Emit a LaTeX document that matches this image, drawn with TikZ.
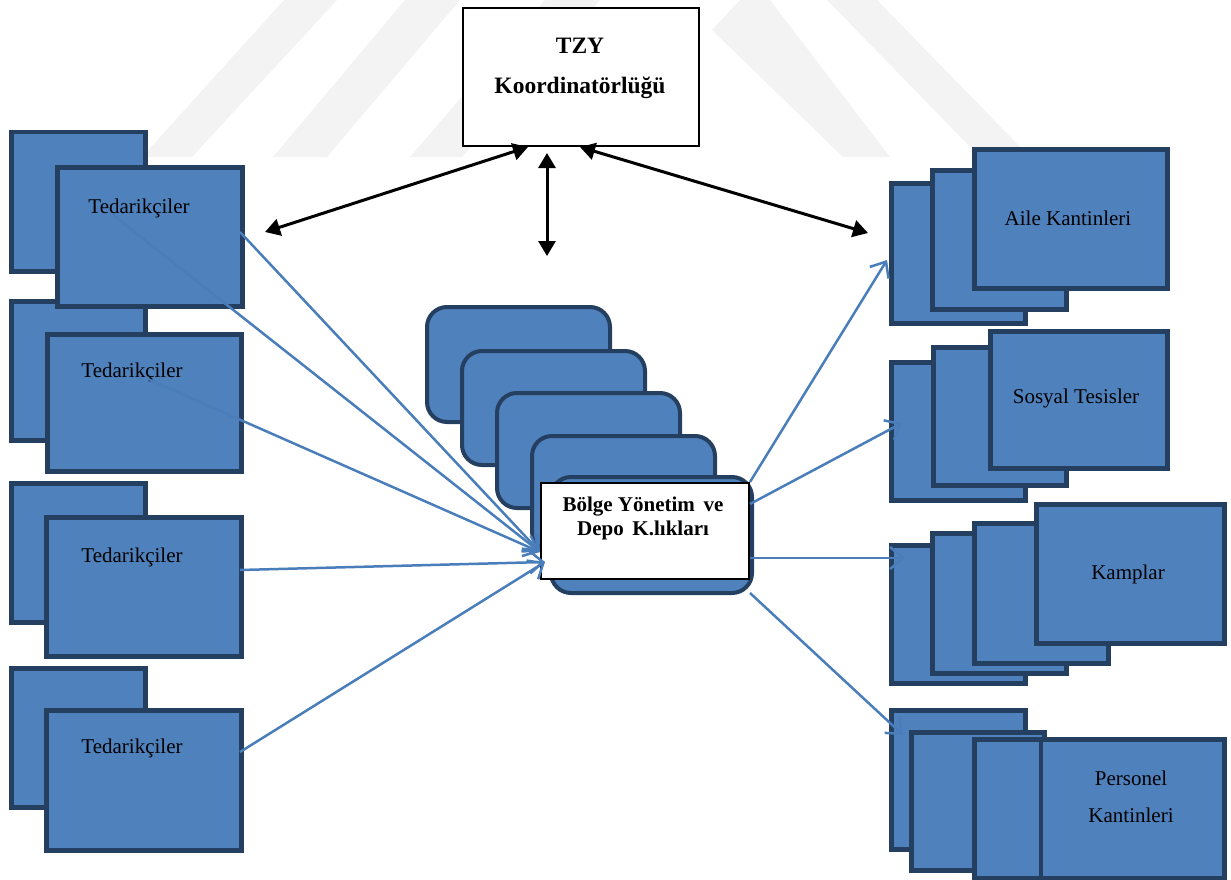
\documentclass[tikz,border=0pt]{standalone}
\usepackage{fontspec}
\setmainfont{Liberation Serif}
\usetikzlibrary{arrows.meta}
\definecolor{boxfill}{HTML}{4F81BD}
\definecolor{boxline}{HTML}{243F60}
\definecolor{conn}{HTML}{4A7EBB}
\definecolor{wm}{HTML}{F3F3F3}
\tikzset{
  bluebox/.style={draw=boxline, fill=boxfill, line width=4.5pt, inner sep=0pt, anchor=north west},
  roundbox/.style={draw=boxline, fill=boxfill, line width=4pt, rounded corners=20pt, inner sep=0pt, anchor=north west},
  whitebox/.style={draw=black, fill=white, line width=2pt, inner sep=0pt, anchor=north west},
  lbl/.style={font=\fontsize{21}{25}\selectfont, inner sep=0pt, align=center},
  blbl/.style={font=\bfseries\fontsize{23.5}{40}\selectfont, inner sep=0pt, align=center},
  conn/.style={draw=conn, line width=2.5pt, -{Straight Barb[length=13pt,width=22pt,line width=2.5pt]}},
  darr/.style={draw=black, line width=3pt, {Triangle[length=15pt,width=17pt]}-{Triangle[length=15pt,width=17pt]}},
  wmark/.style={fill=wm, draw=none}
}
% box by outer corners: name, x1, y1, x2, y2, style
\newcommand\pbox[6]{\node[#6, minimum width=#4-#2-4, minimum height=#5-#3-4] (#1) at (#2+2,#3+2) {};}
\begin{document}
\begin{tikzpicture}[x=1pt,y=-1pt]
\useasboundingbox (0,0) rectangle (1231,880);
% watermark
\fill[wmark] (142,157) -- (192,157) -- (337,0) -- (284,0) -- cycle;
\fill[wmark] (273,157) -- (327,157) -- (460,0) -- (405,0) -- cycle;
\fill[wmark] (410,157) -- (462,157) -- (600,0) -- (545,0) -- cycle;
\fill[wmark] (712,30) -- (740,0) -- (770,0) -- (890,157) -- (843,157) -- cycle;
\fill[wmark] (827,0) -- (877,0) -- (1030,157) -- (980,157) -- cycle;

% left supplier groups: back rects first
\pbox{t1b}{7}{128}{145}{271}{bluebox}
\pbox{t2b}{7}{297}{145}{440}{bluebox}
\pbox{t3b}{7}{479}{145}{622}{bluebox}
\pbox{t4b}{7}{664}{145}{807}{bluebox}
\pbox{t1}{53}{163}{242}{306}{bluebox}
\pbox{t2}{43}{330}{241}{471}{bluebox}
\pbox{t3}{42}{513}{241}{656}{bluebox}
\pbox{t4}{42}{706}{241}{850}{bluebox}
\node[lbl] (t1l) at (139,208) {Tedarikçiler};
\node[lbl] (t2l) at (132,372) {Tedarikçiler};
\node[lbl] (t3l) at (132,557) {Tedarikçiler};
\node[lbl] (t4l) at (132,748) {Tedarikçiler};

% top box
\pbox{tzy}{460}{5}{700}{147}{whitebox}
\node[blbl] (tzyl) at (580,68) {TZY\\Koordinatörlüğü};

% central stack
\pbox{c1}{423}{303}{610}{422}{roundbox}
\pbox{c2}{458}{347}{645}{465}{roundbox}
\pbox{c3}{493}{389}{680}{508}{roundbox}
\pbox{c4}{528}{432}{715}{551}{roundbox}
\pbox{c5}{547}{473}{752}{593}{roundbox}
\pbox{bolge}{538}{480}{750}{580}{whitebox}
\node[font=\bfseries\fontsize{21}{24}\selectfont, inner sep=0pt, align=center] (bolgel) at (643,518) {Bölge Yönetim\, ve\\Depo\, K.lıkları};

% right groups
\pbox{a1}{887}{179}{1025}{323}{bluebox}
\pbox{a2}{928}{166}{1066}{309}{bluebox}
\pbox{a3}{970}{145}{1167}{288}{bluebox}
\node[lbl] (al) at (1068,218) {Aile Kantinleri};

\pbox{s1}{887}{358}{1025}{500}{bluebox}
\pbox{s2}{929}{343}{1066}{485}{bluebox}
\pbox{s3}{986}{327}{1167}{468}{bluebox}
\node[lbl] (sl) at (1076,398) {Sosyal Tesisler};

\pbox{k1}{887}{541}{1025}{683}{bluebox}
\pbox{k2}{928}{529}{1066}{673}{bluebox}
\pbox{k3}{970}{519}{1108}{663}{bluebox}
\pbox{k4}{1032}{500}{1224}{643}{bluebox}
\node[lbl] (kl) at (1128,574) {Kamplar};

\pbox{p1}{887}{706}{1025}{849}{bluebox}
\pbox{p2}{907}{728}{1044}{870}{bluebox}
\pbox{p3}{970}{735}{1224}{878}{bluebox}
\draw[boxline, line width=4.5pt] (p3.north west -| 1041,0) -- (p3.south west -| 1041,0);
\node[font=\fontsize{21}{37}\selectfont, inner sep=0pt, align=center] (pl) at (1131,797) {Personel\\Kantinleri};

% connector end points
\coordinate (sA) at (240,232);
\coordinate (sB) at (113,215);
\coordinate (sC) at (150,380);
\coordinate (sD) at (240,570);
\coordinate (sE) at (240,752);
\coordinate (hub1) at (540,552);
\coordinate (hub2) at (545,562);
\coordinate (oA) at (750,482);
\coordinate (oB) at (750,504);
\coordinate (oC) at (750,558);
\coordinate (oD) at (750,593);
\coordinate (eA) at (887,260);
\coordinate (eB) at (902,423);
\coordinate (eC) at (905,558);
\coordinate (eD) at (903,735);
\coordinate (bl) at (265,232);
\coordinate (bt1) at (528,147);
\coordinate (bt2) at (547,153);
\coordinate (bb) at (547,256);
\coordinate (bt3) at (580,147);
\coordinate (br) at (868,233);

% blue connectors
\draw[conn] (sA) -- (hub1);
\draw[conn] (sB) -- (hub1);
\draw[conn] (sC) -- (hub1);
\draw[conn] (sD) -- (hub2);
\draw[conn] (sE) -- (hub2);
\draw[conn] (oA) -- (eA);
\draw[conn] (oB) -- (eB);
\draw[conn] (oC) -- (eC);
\draw[conn] (oD) -- (eD);

% black double arrows
\draw[darr] (bl) -- (bt1);
\draw[darr] (bt2) -- (bb);
\draw[darr] (bt3) -- (br);
\end{tikzpicture}
\end{document}
